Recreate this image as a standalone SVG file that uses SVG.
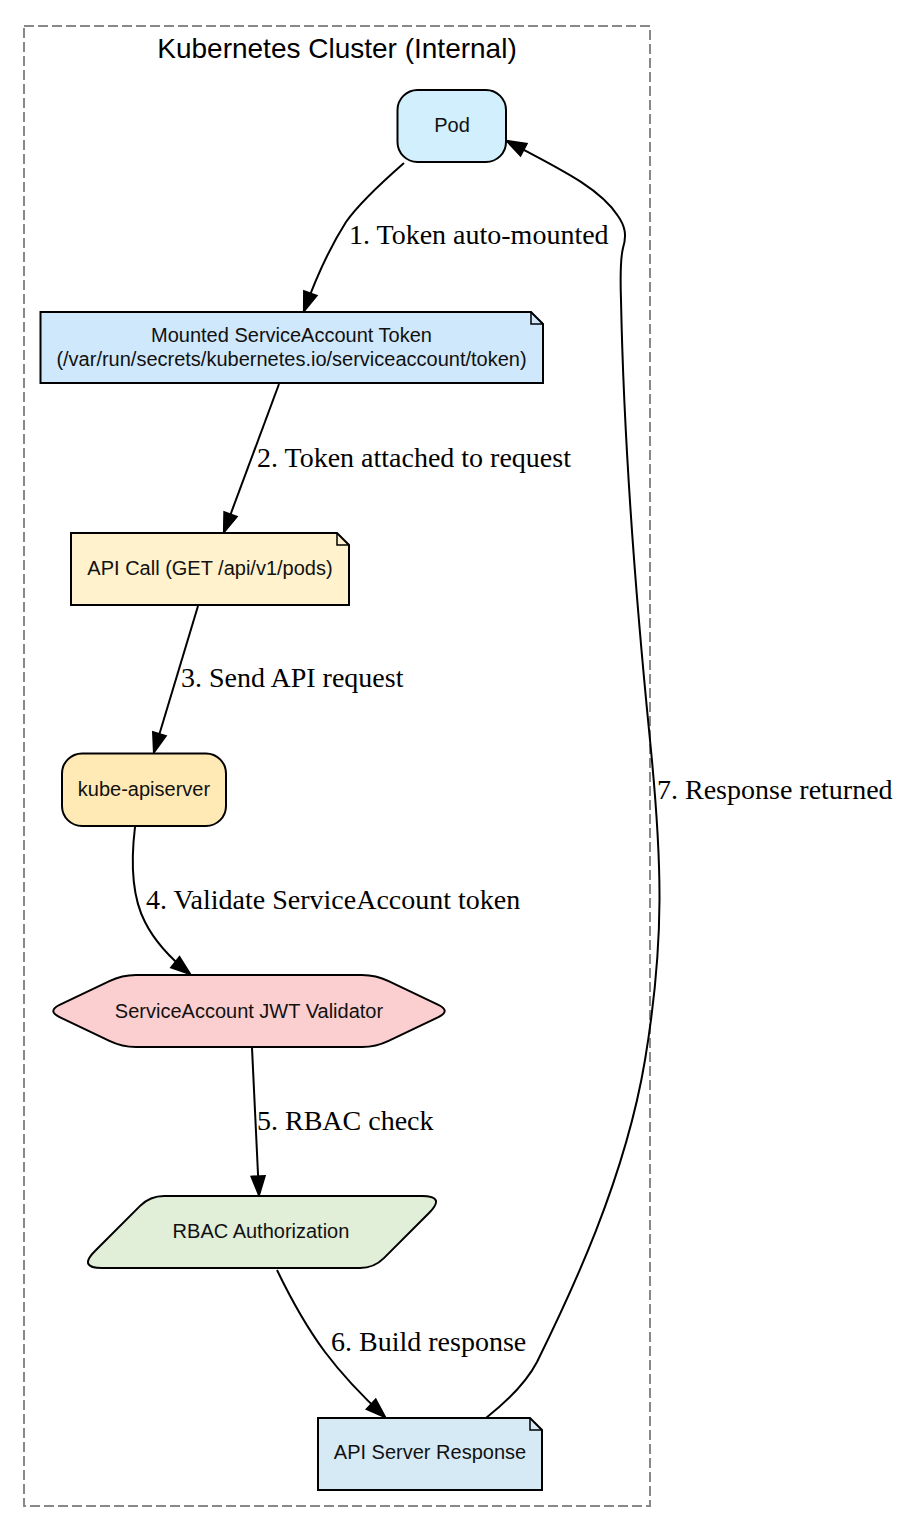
<svg xmlns="http://www.w3.org/2000/svg" width="900" height="1531" viewBox="0 0 900 1531">
<style>
.node{stroke:#000;stroke-width:2;}
.ntext{font-family:"Liberation Sans",Arial,sans-serif;font-size:20px;fill:#111;text-anchor:middle;}
.elabel{font-family:"Liberation Serif","Times New Roman",serif;font-size:28px;fill:#000;}
.edge{fill:none;stroke:#000;stroke-width:2;}
.fold{fill:none;stroke:#000;stroke-width:1.5;}
</style>
<defs>
<marker id="arrow" markerUnits="userSpaceOnUse" viewBox="0 0 20 14" markerWidth="20" markerHeight="14" refX="19" refY="7" orient="auto" overflow="visible">
<path d="M0,0 L20,7 L0,14 Z" fill="#000" stroke="#000" stroke-width="1.5" stroke-linejoin="miter"/>
</marker>
</defs>
<rect width="900" height="1531" fill="#fff"/>
<g id="cluster">
<rect x="24" y="26" width="626" height="1480" fill="none" stroke="#888" stroke-width="2" stroke-dasharray="10,4"/>
<text x="337" y="58" style="font-family:'Liberation Sans',Arial,sans-serif;font-size:28px;fill:#000;text-anchor:middle;">Kubernetes Cluster (Internal)</text>
</g>
<g id="edges">
<path class="edge" marker-end="url(#arrow)" d="M404,163 C380,184 358,205 346,222 C332,244 318,272 304,311"/>
<text class="elabel" x="349" y="244">1. Token auto-mounted</text>
<path class="edge" marker-end="url(#arrow)" d="M279,384 L224,532"/>
<text class="elabel" x="257" y="467">2. Token attached to request</text>
<path class="edge" marker-end="url(#arrow)" d="M198,606 L154,752"/>
<text class="elabel" x="181" y="687">3. Send API request</text>
<path class="edge" marker-end="url(#arrow)" d="M135,827 C131,860 131,895 145,922 C155,942 170,958 190,974"/>
<text class="elabel" x="146" y="909">4. Validate ServiceAccount token</text>
<path class="edge" marker-end="url(#arrow)" d="M252,1048 L259,1195"/>
<text class="elabel" x="257" y="1130">5. RBAC check</text>
<path class="edge" marker-end="url(#arrow)" d="M277,1270 C290,1297 305,1325 325,1352 C340,1372 360,1394 385,1417"/>
<text class="elabel" x="331" y="1351">6. Build response</text>
<path class="edge" marker-end="url(#arrow)" d="M486,1418 C505,1403 525,1385 537,1362 C570,1295 625,1180 645,1060 C665,940 662,860 650,740 C638,620 624,450 621,300 C620,270 621,256 623,248 C627,235 625,226 618,216 C600,188 560,169 507,141"/>
<text class="elabel" x="657" y="799">7. Response returned</text>
</g>
<g id="pod">
<rect class="node" x="397.5" y="90" width="108.5" height="72" rx="20" ry="20" fill="#d2effd"/>
<text class="ntext" x="452" y="132">Pod</text>
</g>
<g id="token">
<path class="node" d="M40.5,312 L531,312 L543,324 L543,383 L40.5,383 Z" fill="#d0e8fc"/>
<path class="fold" d="M531,312 L531,324 L543,324"/>
<text class="ntext" x="291.5" y="342">Mounted ServiceAccount Token</text>
<text class="ntext" x="291.5" y="366">(/var/run/secrets/kubernetes.io/serviceaccount/token)</text>
</g>
<g id="apicall">
<path class="node" d="M71,533 L337,533 L349,545 L349,605 L71,605 Z" fill="#fff2cc"/>
<path class="fold" d="M337,533 L337,545 L349,545"/>
<text class="ntext" x="210" y="575">API Call (GET /api/v1/pods)</text>
</g>
<g id="apiserver">
<rect class="node" x="62" y="753.5" width="164" height="72.5" rx="20" ry="20" fill="#ffe9b5"/>
<text class="ntext" x="144" y="796">kube-apiserver</text>
</g>
<g id="validator">
<path class="node" d="M59.6,1004.9 L109.4,981.1 Q122,975 136,975 L362,975 Q376,975 388.6,981.1 L438.4,1004.9 Q451,1011 438.4,1017.1 L388.6,1040.9 Q376,1047 362,1047 L136,1047 Q122,1047 109.4,1040.9 L59.6,1017.1 Q47,1011 59.6,1004.9 Z" fill="#fbcfcf"/>
<text class="ntext" x="249" y="1018">ServiceAccount JWT Validator</text>
</g>
<g id="rbac">
<path class="node" d="M102,1268 Q78,1268 95,1251 L140.1,1205.9 Q150,1196 164,1196 L422,1196 Q446,1196 429,1213 L383.9,1258.1 Q374,1268 360,1268 Z" fill="#e1eed8"/>
<text class="ntext" x="261" y="1238">RBAC Authorization</text>
</g>
<g id="response">
<path class="node" d="M318,1418 L530,1418 L542,1430 L542,1490 L318,1490 Z" fill="#d6eaf5"/>
<path class="fold" d="M530,1418 L530,1430 L542,1430"/>
<text class="ntext" x="430" y="1459">API Server Response</text>
</g>
</svg>
